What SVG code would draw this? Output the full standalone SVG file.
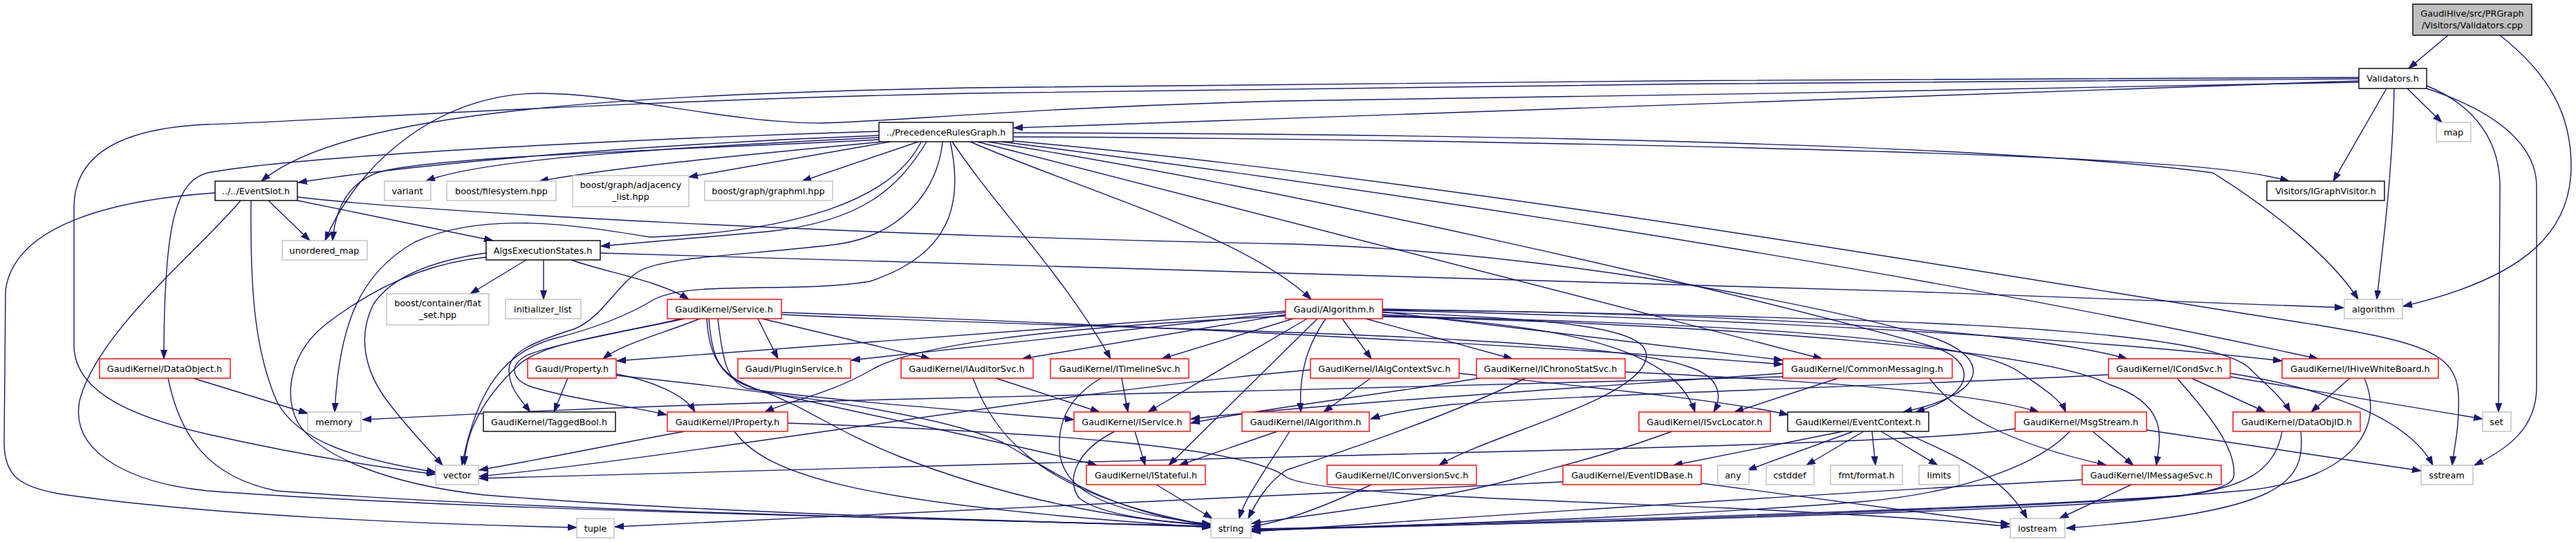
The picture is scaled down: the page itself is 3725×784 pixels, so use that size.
<svg xmlns="http://www.w3.org/2000/svg" width="3725" height="784" viewBox="0 0 3725 784">
<style>
.nd rect{fill:#ffffff;stroke-width:1.4}
.b rect{stroke:#000000}
.r rect{stroke:#ff0000}
.g rect{stroke:#bfbfbf}
.root rect{fill:#bfbfbf;stroke:#000000}
text{font-family:"DejaVu Sans","Liberation Sans",Arial,sans-serif;font-size:12.8px;text-anchor:middle;fill:#000000}
#edges path{fill:none;stroke:#191970;stroke-width:1.4;marker-end:url(#ah)}
</style>
<defs>
<marker id="ah" viewBox="0 -5 13 10" refX="13" refY="0" markerWidth="13" markerHeight="10" markerUnits="userSpaceOnUse" orient="auto"><path d="M0,-4.5 L13,0 L0,4.5 z" fill="#191970" stroke="#191970" stroke-width="1"/></marker>
</defs>
<rect x="0" y="0" width="3725" height="784" fill="#ffffff"/>
<g id="edges">
<path d="M3540,51 L3483,99"/>
<path d="M3615,51 C3690,110 3718,170 3718,240 C3718,330 3660,400 3475,443"/>
<path d="M3411,117 C3000,128 2300,150 1466,185"/>
<path d="M3411,112 C2800,114 2000,118 1400,127 C900,137 500,160 378,262"/>
<path d="M3411,114 C2800,117 2000,125 1400,135 C900,145 420,177 300,180 C180,185 107,220 107,300 L107,500 C107,570 200,605 300,628 C420,655 540,675 630,686"/>
<path d="M3411,119 C3000,128 2300,140 1860,146 C1500,155 1300,175 1188,178 C1050,178 900,135 780,135 C640,135 520,230 470,348"/>
<path d="M3451,128 L3374,262"/>
<path d="M3481,128 L3531,177"/>
<path d="M3462,128 C3460,250 3445,360 3437,433"/>
<path d="M3509,124 C3585,155 3615,210 3615,270 L3613,596"/>
<path d="M3509,128 C3620,165 3668,215 3668,270 L3668,560 C3668,620 3625,650 3578,673"/>
<path d="M1271,196 C1000,206 650,230 431,264"/>
<path d="M1271,190 C1000,198 450,222 300,250 C255,262 237,320 237,519"/>
<path d="M1271,199 C1000,212 700,228 616,262"/>
<path d="M1277,205 C1100,222 900,240 780,262"/>
<path d="M1288,205 L996,256"/>
<path d="M1328,205 L1160,262"/>
<path d="M1271,202 C1000,216 620,226 545,250 C505,265 485,300 481,348"/>
<path d="M1340,205 C1300,270 1250,320 1110,335 C1000,345 920,352 869,356"/>
<path d="M1332,205 C1290,290 1150,335 940,343 C830,325 700,305 600,350 C520,395 490,470 484,596"/>
<path d="M1374,205 C1395,300 1370,370 1258,407 C1150,425 1000,405 946,433 C910,455 860,475 800,490 C730,510 690,560 668,673"/>
<path d="M1363,205 C1355,280 1300,340 1213,353 C1100,368 960,370 923,393 C890,415 870,460 830,476 C770,495 736,510 736,535 C736,560 750,575 767,596"/>
<path d="M1466,198 C2000,200 2700,215 3000,230 C3150,238 3250,245 3310,262"/>
<path d="M1466,192 C2200,194 2900,210 3200,250 C3280,300 3370,370 3410,433"/>
<path d="M1466,204 C2100,260 2900,400 3350,470 C3500,495 3552,510 3555,570 C3557,620 3548,650 3546,673"/>
<path d="M1448,205 C2200,300 2900,420 3352,519"/>
<path d="M1413,205 L2635,519"/>
<path d="M1428,205 C1900,280 2500,420 2790,500 C2860,520 2860,570 2770,596"/>
<path d="M1403,205 C1550,270 1800,340 1896,433"/>
<path d="M1377,205 C1440,300 1540,400 1606,519"/>
<path d="M388,290 L448,348"/>
<path d="M430,290 L713,348"/>
<path d="M311,279 C150,290 20,330 8,420 L6,640 C6,690 30,705 90,715 C300,745 600,758 834,763"/>
<path d="M348,290 C290,360 140,480 115,580 C100,660 200,700 300,710 C700,740 1400,750 1751,762"/>
<path d="M363,290 C362,400 365,500 400,580 C430,640 520,665 630,683"/>
<path d="M430,285 C600,305 1200,340 1870,353 C2200,363 2600,430 2800,490 C2880,520 2875,570 2752,596"/>
<path d="M761,376 L680,425"/>
<path d="M786,376 L786,433"/>
<path d="M826,376 C880,395 950,405 996,433"/>
<path d="M868,366 C1500,380 2500,410 3389,445"/>
<path d="M703,366 C640,375 570,395 540,440 C515,490 530,540 560,580 C590,620 620,650 640,673"/>
<path d="M703,372 C640,378 560,400 470,470 C420,510 410,570 430,610 C460,660 560,700 700,716 C1000,740 1400,752 1751,762"/>
<path d="M1096,461 L1125,519"/>
<path d="M1102,461 L1345,519"/>
<path d="M1012,461 C960,482 900,497 872,519"/>
<path d="M990,461 C900,480 790,500 760,515 C735,530 740,550 770,560 C830,578 900,585 964,600"/>
<path d="M1038,461 C1045,520 1050,550 1080,562 C1200,580 1450,598 1553,607"/>
<path d="M1025,461 C1030,520 1040,548 1100,565 C1300,610 1500,650 1586,673"/>
<path d="M1131,452 C1700,472 2300,505 2578,527"/>
<path d="M1131,455 C1600,478 2300,480 2440,530 C2490,545 2490,575 2478,596"/>
<path d="M985,461 C900,482 780,495 748,530 C700,575 672,625 672,673"/>
<path d="M1022,461 C1025,515 1040,545 1100,565 C1170,590 1200,620 1300,660 C1450,720 1620,752 1751,760"/>
<path d="M1859,452 L1231,521"/>
<path d="M1859,455 L1478,519"/>
<path d="M1870,461 L1680,519"/>
<path d="M1859,457 C1500,475 1320,500 1260,535 C1200,570 1140,580 1106,596"/>
<path d="M1890,461 L1660,596"/>
<path d="M1905,461 L1690,673"/>
<path d="M1859,450 L892,522"/>
<path d="M1941,461 L1983,519"/>
<path d="M1975,461 L2187,519"/>
<path d="M1917,461 C1890,500 1878,540 1881,596"/>
<path d="M1999,455 C2250,470 2420,500 2451,596"/>
<path d="M1999,451 L2578,521"/>
<path d="M1999,452 C2300,462 2390,480 2380,520 C2365,580 2150,630 2081,673"/>
<path d="M1999,448 C2400,452 2900,470 3076,519"/>
<path d="M1999,449 C2500,460 3000,488 3300,522"/>
<path d="M1999,447 C2700,460 3170,470 3250,530 C3275,555 3300,575 3312,596"/>
<path d="M1999,458 C2500,470 2950,505 3050,556 C3135,585 3125,630 3118,673"/>
<path d="M1999,457 C2500,468 2850,488 2920,538 C2955,562 2980,578 2987,596"/>
<path d="M1982,547 L1914,596"/>
<path d="M2110,540 C2300,560 2500,580 2586,600"/>
<path d="M1895,535 C1500,570 1000,660 693,689"/>
<path d="M2140,547 C2000,570 1800,595 1722,612"/>
<path d="M2206,547 C2100,600 1950,650 1860,680 C1830,700 1815,730 1805,750"/>
<path d="M2350,538 C2600,550 2850,565 2948,596"/>
<path d="M2658,547 L2508,596"/>
<path d="M2790,547 C2830,600 2900,640 3046,673"/>
<path d="M2578,540 C2300,560 1900,585 1722,606"/>
<path d="M2578,545 C2300,555 1500,572 1200,580 C900,588 700,598 524,607"/>
<path d="M3169,547 L3276,596"/>
<path d="M3225,545 L3590,606"/>
<path d="M3225,540 C3350,560 3480,600 3518,673"/>
<path d="M3148,547 C3195,600 3235,650 3230,690 C3225,712 3150,720 3000,730 C2600,750 2100,760 1810,765"/>
<path d="M3049,542 C2800,556 2300,570 2100,585 C2040,592 2000,600 1982,606"/>
<path d="M3398,547 L3342,596"/>
<path d="M3419,547 C3450,620 3400,690 3260,708 C3000,735 2200,755 1810,766"/>
<path d="M3300,624 C3290,680 3250,705 3150,718 C2800,742 2100,760 1810,767"/>
<path d="M3327,624 C3335,700 3300,740 2988,764"/>
<path d="M3026,624 L3085,673"/>
<path d="M3104,622 L3501,681"/>
<path d="M2993,624 C2950,670 2850,710 2700,725 C2400,750 2000,760 1810,768"/>
<path d="M2914,620 C2800,640 2300,650 1900,660 C1500,670 1000,682 693,692"/>
<path d="M2665,624 L2420,673"/>
<path d="M2680,624 L2527,680"/>
<path d="M2695,624 L2612,673"/>
<path d="M2707,624 L2712,673"/>
<path d="M2720,624 L2802,673"/>
<path d="M2750,624 C2830,660 2900,690 2931,750"/>
<path d="M2460,699 L2906,758"/>
<path d="M2260,697 C1800,720 1200,745 889,762"/>
<path d="M3082,701 L2978,750"/>
<path d="M3011,694 C2600,715 2100,750 1810,769"/>
<path d="M2418,624 C2320,660 2250,675 2200,690 C2100,720 1900,745 1810,757"/>
<path d="M1641,624 L1656,673"/>
<path d="M1612,624 C1560,650 1540,690 1560,720 C1590,745 1680,755 1751,759"/>
<path d="M1672,701 L1753,750"/>
<path d="M1847,624 L1705,673"/>
<path d="M1865,624 C1830,680 1800,720 1792,750"/>
<path d="M1983,701 C1900,740 1850,755 1810,762"/>
<path d="M1622,547 L1631,596"/>
<path d="M1592,547 C1545,575 1530,610 1532,650 C1534,700 1580,740 1751,758"/>
<path d="M1440,547 L1590,596"/>
<path d="M1407,547 C1440,640 1520,720 1751,760"/>
<path d="M990,624 C900,640 780,665 693,680"/>
<path d="M1062,624 C1110,690 1250,730 1751,763"/>
<path d="M1139,612 C1500,625 1800,645 1860,690 C1900,715 2200,722 2500,735 C2700,745 2850,755 2906,762"/>
<path d="M821,547 L801,596"/>
<path d="M891,541 C940,550 990,570 1005,596"/>
<path d="M891,543 C1100,565 1350,595 1450,640 C1520,680 1600,740 1751,760"/>
<path d="M279,547 L445,598"/>
<path d="M243,547 C260,630 300,690 400,710 C800,740 1400,752 1751,761"/>
</g>
<g id="node_validators_cpp" class="nd root"><rect x="3489" y="6" width="172" height="45"/><text x="3575" y="24">GaudiHive/src/PRGraph</text><text x="3575" y="41">/Visitors/Validators.cpp</text></g>
<g id="node_validators_h" class="nd b"><rect x="3411" y="99" width="98" height="29"/><text x="3460" y="118">Validators.h</text></g>
<g id="node_map" class="nd g"><rect x="3523" y="177" width="50" height="28"/><text x="3548" y="196">map</text></g>
<g id="node_prg" class="nd b"><rect x="1271" y="177" width="194" height="28"/><text x="1368" y="196">../PrecedenceRulesGraph.h</text></g>
<g id="node_eventslot" class="nd b"><rect x="311" y="262" width="119" height="28"/><text x="370" y="281">../../EventSlot.h</text></g>
<g id="node_variant" class="nd g"><rect x="556" y="262" width="67" height="28"/><text x="589" y="281">variant</text></g>
<g id="node_filesystem" class="nd g"><rect x="646" y="262" width="158" height="28"/><text x="725" y="281">boost/filesystem.hpp</text></g>
<g id="node_adjacency" class="nd g"><rect x="828" y="254" width="168" height="45"/><text x="912" y="272">boost/graph/adjacency</text><text x="912" y="289">_list.hpp</text></g>
<g id="node_graphml" class="nd g"><rect x="1019" y="262" width="185" height="28"/><text x="1111" y="281">boost/graph/graphml.hpp</text></g>
<g id="node_igraphvisitor" class="nd b"><rect x="3278" y="262" width="170" height="28"/><text x="3363" y="281">Visitors/IGraphVisitor.h</text></g>
<g id="node_unordered_map" class="nd g"><rect x="408" y="348" width="123" height="28"/><text x="469" y="367">unordered_map</text></g>
<g id="node_aes" class="nd b"><rect x="703" y="348" width="165" height="28"/><text x="785" y="367">AlgsExecutionStates.h</text></g>
<g id="node_flat_set" class="nd g"><rect x="559" y="425" width="148" height="45"/><text x="633" y="443">boost/container/flat</text><text x="633" y="460">_set.hpp</text></g>
<g id="node_initializer_list" class="nd g"><rect x="731" y="433" width="109" height="28"/><text x="785" y="452">initializer_list</text></g>
<g id="node_service" class="nd r"><rect x="965" y="433" width="165" height="28"/><text x="1047" y="452">GaudiKernel/Service.h</text></g>
<g id="node_gaudi_algorithm" class="nd r"><rect x="1859" y="433" width="140" height="28"/><text x="1929" y="452">Gaudi/Algorithm.h</text></g>
<g id="node_algorithm" class="nd g"><rect x="3390" y="433" width="84" height="28"/><text x="3432" y="452">algorithm</text></g>
<g id="node_dataobject" class="nd r"><rect x="144" y="519" width="189" height="28"/><text x="238" y="538">GaudiKernel/DataObject.h</text></g>
<g id="node_property" class="nd r"><rect x="763" y="519" width="128" height="28"/><text x="827" y="538">Gaudi/Property.h</text></g>
<g id="node_pluginservice" class="nd r"><rect x="1067" y="519" width="163" height="28"/><text x="1148" y="538">Gaudi/PluginService.h</text></g>
<g id="node_iauditorsvc" class="nd r"><rect x="1303" y="519" width="191" height="28"/><text x="1398" y="538">GaudiKernel/IAuditorSvc.h</text></g>
<g id="node_itimelinesvc" class="nd r"><rect x="1519" y="519" width="200" height="28"/><text x="1619" y="538">GaudiKernel/ITimelineSvc.h</text></g>
<g id="node_ialgcontextsvc" class="nd r"><rect x="1895" y="519" width="215" height="28"/><text x="2002" y="538">GaudiKernel/IAlgContextSvc.h</text></g>
<g id="node_ichronostatsvc" class="nd r"><rect x="2135" y="519" width="215" height="28"/><text x="2242" y="538">GaudiKernel/IChronoStatSvc.h</text></g>
<g id="node_commonmessaging" class="nd r"><rect x="2578" y="519" width="245" height="28"/><text x="2700" y="538">GaudiKernel/CommonMessaging.h</text></g>
<g id="node_icondsvc" class="nd r"><rect x="3049" y="519" width="176" height="28"/><text x="3137" y="538">GaudiKernel/ICondSvc.h</text></g>
<g id="node_ihivewhiteboard" class="nd r"><rect x="3300" y="519" width="226" height="28"/><text x="3413" y="538">GaudiKernel/IHiveWhiteBoard.h</text></g>
<g id="node_memory" class="nd g"><rect x="445" y="596" width="77" height="28"/><text x="483" y="615">memory</text></g>
<g id="node_taggedbool" class="nd b"><rect x="699" y="596" width="191" height="28"/><text x="794" y="615">GaudiKernel/TaggedBool.h</text></g>
<g id="node_iproperty" class="nd r"><rect x="965" y="596" width="174" height="28"/><text x="1052" y="615">GaudiKernel/IProperty.h</text></g>
<g id="node_iservice" class="nd r"><rect x="1553" y="596" width="168" height="28"/><text x="1637" y="615">GaudiKernel/IService.h</text></g>
<g id="node_ialgorithm" class="nd r"><rect x="1796" y="596" width="184" height="28"/><text x="1888" y="615">GaudiKernel/IAlgorithm.h</text></g>
<g id="node_isvclocator" class="nd r"><rect x="2370" y="596" width="190" height="28"/><text x="2465" y="615">GaudiKernel/ISvcLocator.h</text></g>
<g id="node_eventcontext" class="nd b"><rect x="2585" y="596" width="204" height="28"/><text x="2687" y="615">GaudiKernel/EventContext.h</text></g>
<g id="node_msgstream" class="nd r"><rect x="2914" y="596" width="190" height="28"/><text x="3009" y="615">GaudiKernel/MsgStream.h</text></g>
<g id="node_dataobjid" class="nd r"><rect x="3229" y="596" width="184" height="28"/><text x="3321" y="615">GaudiKernel/DataObjID.h</text></g>
<g id="node_set" class="nd g"><rect x="3590" y="596" width="41" height="28"/><text x="3610" y="615">set</text></g>
<g id="node_vector" class="nd g"><rect x="630" y="673" width="62" height="28"/><text x="661" y="692">vector</text></g>
<g id="node_istateful" class="nd r"><rect x="1571" y="673" width="172" height="28"/><text x="1657" y="692">GaudiKernel/IStateful.h</text></g>
<g id="node_iconversionsvc" class="nd r"><rect x="1919" y="673" width="216" height="28"/><text x="2027" y="692">GaudiKernel/IConversionSvc.h</text></g>
<g id="node_eventidbase" class="nd r"><rect x="2260" y="673" width="200" height="28"/><text x="2360" y="692">GaudiKernel/EventIDBase.h</text></g>
<g id="node_any" class="nd g"><rect x="2484" y="673" width="45" height="28"/><text x="2506" y="692">any</text></g>
<g id="node_cstddef" class="nd g"><rect x="2554" y="673" width="69" height="28"/><text x="2588" y="692">cstddef</text></g>
<g id="node_fmt_format" class="nd g"><rect x="2647" y="673" width="104" height="28"/><text x="2699" y="692">fmt/format.h</text></g>
<g id="node_limits" class="nd g"><rect x="2775" y="673" width="58" height="28"/><text x="2804" y="692">limits</text></g>
<g id="node_imessagesvc" class="nd r"><rect x="3011" y="673" width="201" height="28"/><text x="3111" y="692">GaudiKernel/IMessageSvc.h</text></g>
<g id="node_sstream" class="nd g"><rect x="3501" y="673" width="75" height="28"/><text x="3538" y="692">sstream</text></g>
<g id="node_tuple" class="nd g"><rect x="834" y="750" width="54" height="28"/><text x="861" y="769">tuple</text></g>
<g id="node_string" class="nd g"><rect x="1751" y="750" width="58" height="28"/><text x="1780" y="769">string</text></g>
<g id="node_iostream" class="nd g"><rect x="2907" y="750" width="79" height="28"/><text x="2946" y="769">iostream</text></g>
</svg>
